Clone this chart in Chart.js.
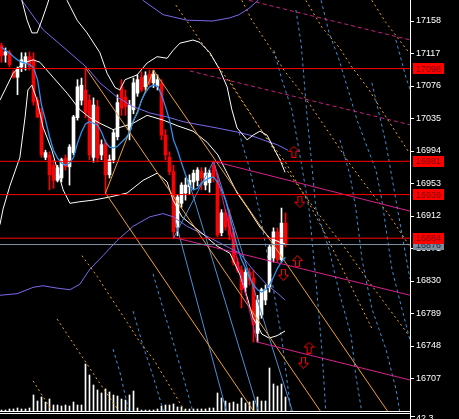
<!DOCTYPE html>
<html><head><meta charset="utf-8">
<script src="https://cdn.jsdelivr.net/npm/chart.js@4.4.1/dist/chart.umd.min.js"></script>
<style>html,body{margin:0;padding:0;background:#000;overflow:hidden}</style>
</head><body>
<canvas id="c" width="459" height="419" style="display:block;width:459px;height:419px"></canvas>
<script>
// ---------------- DATA ----------------
const opens  = [17127,17115,17118,17094,17087,17100,17105,17113,17109,17058,17043,16986,16989,16976,16957,16960,16985,16974,16992,17036,17058,17071,17058,16986,17050,16989,17004,16964,16983,17012,17075,17062,17021,17046,17067,17087,17075,17091,17080,17076,17079,17014,16986,16968,16898,16928,16941,16949,16955,16957,16968,16951,16954,16976,16957,16891,16916,16913,16892,16854,16844,16822,16841,16834,16764,16787,16806,16822,16859,16892,16857,16903];
const highs  = [17130,17124,17121,17096,17100,17118,17118,17119,17118,17062,17048,16995,16993,16983,16976,16985,16989,17002,17039,17084,17086,17099,17065,17061,17058,17008,17008,16989,17021,17065,17084,17071,17058,17086,17090,17094,17094,17096,17096,17090,17084,17021,16993,16976,16939,16954,16960,16964,16970,16973,16973,16973,16970,16981,16964,16920,16920,16920,16897,16859,16849,16846,16846,16844,16812,16821,16825,16875,16897,16897,16922,16916];
const lows   = [17106,17106,17100,17086,17065,17094,17096,17096,17052,17036,16986,16983,16945,16947,16955,16955,16970,16951,16989,17033,17052,17036,16983,16980,16980,16983,16941,16960,16979,17008,17039,17039,17008,17041,17063,17069,17071,17077,17074,17071,17008,16983,16964,16884,16887,16923,16932,16939,16945,16950,16945,16945,16942,16955,16886,16887,16894,16882,16850,16841,16796,16816,16825,16753,16753,16783,16800,16816,16854,16854,16854,16873];
const closes = [17114,17119,17103,17087,17098,17109,17113,17100,17056,17037,16989,16992,16964,16957,16973,16983,16974,16999,17037,17075,17077,17042,16989,17052,16985,17002,16964,16983,17017,17055,17048,17050,17052,17080,17084,17071,17089,17080,17091,17084,17014,16989,16968,16892,16936,16951,16951,16957,16966,16970,16960,16966,16966,16960,16888,16916,16898,16888,16853,16844,16819,16841,16831,16775,16806,16819,16819,16873,16892,16857,16903,16876];
const volumes = [25,25,50,50,75,50,50,75,400,250,350,225,300,150,150,125,150,125,225,150,150,1175,900,650,525,450,550,475,400,375,300,275,400,500,75,25,25,25,25,50,125,150,150,175,100,100,50,50,50,50,50,50,75,75,450,325,250,200,225,175,325,200,225,250,350,250,250,1075,675,625,675,350];
const fastMA = [17125,17121,17118,17113,17109,17106,17105,17103,17099,17084,17052,17033,17012,16995,16985,16979,16976,16979,16986,17004,17018,17028,17031,17029,17027,17018,17005,16999,16998,17000,17005,17010,17017,17033,17042,17058,17068,17075,17077,17076,17065,17050,17033,17008,16995,16979,16964,16951,16945,16947,16954,16957,16960,16961,16955,16945,16932,16913,16892,16872,16857,16846,16834,16825,16819,16816,16819,16825,16835,16846,16854,16860];

const priceTicks = [16707,16748,16789,16830,16871,16912,16953,16994,17035,17076,17117,17158];
const redLevels = [17098,16981,16939,16884];
const bidLevel = 16876;
const subWindowLabel = '42.3';

// band lines: [bar index, price]
const upperBand = [[4.1,17201],[5.1,17184],[6.4,17159],[7.6,17143],[8.9,17143],[10.1,17159],[11.4,17178],[12.6,17197],[15.1,17197],[16.4,17184],[18.9,17159],[21.4,17143],[24.6,17118],[26.4,17092],[28.4,17074],[29.6,17071],[30.9,17084],[33.9,17090],[36.4,17105],[38.9,17113],[41.4,17111],[42.9,17121],[44.6,17130],[47.9,17134],[49.6,17131],[52.1,17118],[54.6,17096],[56.4,17075],[57.6,17046],[58.9,17023],[61.4,17008],[62.9,17014],[64.6,17019],[66.4,17014],[67.9,16999],[69.6,16983],[70.9,16967]];
const middleBand = [[-0.4,17058],[2.9,17092],[5.4,17105],[7.9,17109],[9.6,17106],[12.9,17087],[16.4,17067],[19.6,17046],[22.1,17036],[24.6,17029],[27.9,17021],[32.9,17029],[36.4,17039],[40.4,17033],[43.9,17026],[47.9,17019],[51.4,17005],[54.1,16989],[56.4,16966],[58.9,16941],[61.4,16923],[64.6,16898],[67.1,16884],[69.6,16879],[70.9,16877]];
const lowerBand = [[-0.4,16901],[0.4,16921],[2.1,16950],[4.6,16986],[5.9,17037],[6.6,17071],[7.6,17077],[8.9,17058],[10.4,17024],[12.6,16995],[15.4,16945],[17.1,16928],[19.6,16930],[22.9,16932],[27.1,16936],[31.4,16941],[35.4,16957],[38.9,16966],[41.4,16955],[42.9,16932],[45.1,16911],[50.4,16889],[53.9,16874],[57.1,16865],[59.6,16838],[61.4,16810],[62.9,16783],[63.9,16775],[65.1,16763],[66.9,16758],[68.9,16761],[70.9,16767]];
const upperEnvelope = [[34.6,17191],[35.4,17184],[40.4,17166],[46.4,17159],[52.9,17158],[57.1,17162],[59.4,17166],[61.9,17174],[64.1,17184],[65.9,17195]];
const middleEnvelope = [[4.6,17191],[5.1,17184],[10.4,17147],[16.4,17121],[21.4,17099],[24.6,17080],[28.9,17062],[32.9,17050],[37.1,17042],[41.4,17037],[45.4,17031],[49.6,17027],[53.9,17023],[58.9,17018],[62.1,17014],[65.4,17008],[68.9,17002],[71.6,16995]];
const lowerEnvelope = [[-0.4,16812],[3.9,16814],[7.9,16822],[10.4,16824],[13.9,16821],[17.1,16819],[19.6,16826],[22.1,16845],[25.4,16862],[28.9,16881],[32.9,16899],[37.1,16911],[40.4,16915],[42.9,16911],[46.4,16899],[49.6,16891],[54.6,16878],[59.6,16865],[62.9,16844],[66.4,16825],[68.9,16815],[70.9,16806]];

// trend lines: [bar index, price] end points
const orangeLines = [[[21,17099],[80.1,16663]],[[26,16941],[38,17096]],[[38,17096],[96.9,16663]],[[26,16941],[63.4,16663]]];
const blueLines = [[[43.4,16907],[56.4,16663]],[[47.1,16951],[64.4,16663]],[[53,16981],[72.9,16663]],[[43,16884],[53,16981]]];
const magentaLines = [[[53,16981],[102.2,16918]],[[43,16885],[102.2,16812]],[[63.9,16753],[102.2,16705]],[[53,16981],[63.9,16753]]];
const magentaDashed = [[[61.9,17184],[102.2,17134]],[[47.1,17095],[102.2,17027]]];
const orangeDashed = [
  [[43.6,17178],[49.6,17134],[57.1,17080],[65.4,17017],[72.1,16964],[78.9,16917],[86.1,16870],[92.6,16824],[101.9,16761]],
  [[60.1,17184],[62.6,17159],[67.6,17121],[70.6,17096],[75.1,17067],[81.9,17017],[86.9,16979],[91.9,16945],[96.4,16917],[101.9,16875]],
  [[76.1,17184],[80.1,17150],[84.4,17125],[87.6,17100],[91.9,17071],[96.1,17037],[101.9,16992]],
  [[92.6,17184],[96.1,17156],[101.9,17118]],
  [[56.9,17084],[60.1,17058],[64.4,17024],[71.1,16979],[74.4,16949],[76.9,16928],[81.1,16888],[84.4,16854],[88.6,16811],[92.6,16770]],
  [[20.1,16862],[23.9,16836],[27.1,16811],[31.4,16778],[34.6,16753],[37.9,16732],[41.4,16703],[45.9,16665]],
  [[13.9,16782],[18.9,16744],[23.9,16706],[29.6,16664]],
  [[7.9,16704],[12.9,16664]]
];
const blueDashed = [
  [[37.9,16839],[40.4,16795],[42.9,16753],[45.4,16710],[47.9,16664]],
  [[32.9,16792],[35.4,16748],[37.9,16710],[40.6,16664]],
  [[27.9,16744],[29.6,16715],[31.9,16664]],
  [[59.4,17017],[61.9,16974],[64.4,16920],[67.6,16831],[70.1,16756],[72.4,16664]],
  [[68.1,17121],[70.1,17084],[72.6,17046],[75.1,16974],[76.9,16920],[78.6,16831],[80.1,16743],[81.1,16664]],
  [[73.6,17172],[74.9,17130],[75.6,17087],[76.4,17037],[77.4,16986],[78.6,16921],[81.9,16870],[84.4,16816],[87.4,16761],[88.6,16710],[90.1,16664]],
  [[79.9,17184],[81.9,17143],[84.4,17109],[86.9,17067],[88.9,17033],[91.4,16999],[93.6,16970],[95.1,16932],[97.6,16845],[100.1,16795],[102.1,16756]],
  [[84.6,17008],[87.1,16964],[88.6,16921],[90.1,16858],[92.6,16795],[96.1,16744],[98.6,16694],[99.6,16664]],
  [[92.6,17080],[96.1,17004],[98.6,16932],[102.1,16833]],
  [[98.6,17134],[101.1,17087],[102.6,17065]]
];
const upArrows = [[73.1,16993],[74.0,16855],[76.9,16746]];
const downArrows = [[74.6,16930],[70.5,16838],[75.5,16727]];

// ---------------- BUILD ----------------
const X_MIN = -0.375, X_MAX = 102.125;
const idx = closes.map((_, i) => i);
const candleColors = idx.map(i => closes[i] >= opens[i] ? '#ffffff' : '#ff0000');

function arrowCanvas(up) {
  const c = document.createElement('canvas');
  c.width = 11; c.height = 12;
  const g = c.getContext('2d');
  const pts = [[5.5,0.5],[10.5,5.5],[7.5,5.5],[7.5,11.5],[3.5,11.5],[3.5,5.5],[0.5,5.5]];
  g.strokeStyle = '#ff0000'; g.lineWidth = 1;
  g.beginPath();
  pts.forEach((p, k) => { const y = up ? p[1] : 12 - p[1]; k ? g.lineTo(p[0], y) : g.moveTo(p[0], y); });
  g.closePath(); g.stroke();
  return c;
}

const toXY = pts => pts.map(p => ({x: p[0], y: p[1]}));
function lineDS(pts, color, extra) {
  return Object.assign({type: 'line', data: toXY(pts), borderColor: color, backgroundColor: color,
    borderWidth: 1, pointRadius: 0, fill: false, tension: 0, order: 20, yAxisID: 'y', xAxisID: 'x'}, extra || {});
}

const datasets = [];
datasets.push({type: 'bar', data: idx.map(i => ({x: i, y: volumes[i]})), backgroundColor: '#ffffff',
  barThickness: 1, grouped: false, yAxisID: 'yv', xAxisID: 'x', order: 60});
blueDashed.forEach(l => datasets.push(lineDS(l, '#3f8fd6', {borderDash: [3, 3], order: 55})));
orangeDashed.forEach(l => datasets.push(lineDS(l, '#eea51e', {borderDash: [2, 3], order: 55})));
datasets.push({type: 'bar', data: idx.map(i => ({x: i, y: [lows[i], highs[i]]})), backgroundColor: candleColors,
  barThickness: 1, grouped: false, yAxisID: 'y', xAxisID: 'x', order: 50});
datasets.push({type: 'bar', data: idx.map(i => ({x: i, y: [opens[i], closes[i]]})), backgroundColor: candleColors,
  barThickness: 3, grouped: false, minBarLength: 1, yAxisID: 'y', xAxisID: 'x', order: 49});
[upperBand, middleBand, lowerBand].forEach(b => datasets.push(lineDS(b, '#ffffff', {order: 30})));
[upperEnvelope, middleEnvelope, lowerEnvelope].forEach(b => datasets.push(lineDS(b, '#7b68ee', {order: 31})));
orangeLines.forEach(l => datasets.push(lineDS(l, '#f0a030', {order: 28})));
blueLines.forEach(l => datasets.push(lineDS(l, '#4a8fd2', {order: 28})));
datasets.push(lineDS(idx.map(i => [i, fastMA[i]]), '#2e92f0', {borderWidth: 1.3, order: 25}));
magentaLines.forEach(l => datasets.push(lineDS(l, '#d8208c', {order: 22})));
magentaDashed.forEach(l => datasets.push(lineDS(l, '#c8207f', {borderDash: [4, 3], order: 22})));
datasets.push(lineDS([[X_MIN, bidLevel], [X_MAX, bidLevel]], '#8292a6', {order: 11}));
redLevels.forEach(v => datasets.push(lineDS([[X_MIN, v], [X_MAX, v]], '#ff0000', {order: 10})));
datasets.push(lineDS(upArrows, '#ff0000', {showLine: false, pointRadius: 6, pointStyle: arrowCanvas(true), order: 5}));
datasets.push(lineDS(downArrows, '#ff0000', {showLine: false, pointRadius: 6, pointStyle: arrowCanvas(false), order: 5}));

const FONT = '"Liberation Sans", Arial, sans-serif';

const bgPlugin = {id: 'bg', beforeDraw(chart) {
  const ctx = chart.ctx; ctx.save(); ctx.fillStyle = '#000'; ctx.fillRect(0, 0, chart.width, chart.height); ctx.restore();
}};

const overlayPlugin = {id: 'overlay', afterDraw(chart) {
  const ctx = chart.ctx, a = chart.chartArea, y = chart.scales.y;
  ctx.save();
  ctx.strokeStyle = '#ffffff'; ctx.lineWidth = 1;
  ctx.beginPath();
  ctx.moveTo(a.right + 0.5, 0); ctx.lineTo(a.right + 0.5, chart.height);
  ctx.moveTo(0, a.bottom + 0.5); ctx.lineTo(a.right + 1, a.bottom + 0.5);
  ctx.moveTo(0, a.bottom + 2.5); ctx.lineTo(a.right + 1, a.bottom + 2.5);
  ctx.moveTo(a.right, a.bottom + 5.5); ctx.lineTo(a.right + 5, a.bottom + 5.5);
  ctx.stroke();
  ctx.font = '9px ' + FONT; ctx.textBaseline = 'middle'; ctx.textAlign = 'left';
  ctx.fillStyle = '#ffffff';
  ctx.fillText(subWindowLabel, a.right + 6, a.bottom + 8);
  const tag = (v, bg, fg) => {
    const py = y.getPixelForValue(v);
    ctx.fillStyle = bg; ctx.fillRect(a.right + 3, Math.round(py - 5.5), 31, 11);
    ctx.fillStyle = fg; ctx.fillText(String(v), a.right + 6, py + 0.5);
  };
  tag(bidLevel, '#7d8a9c', '#1c2a44');
  redLevels.forEach(v => tag(v, '#ff0000', '#7a0000'));
  ctx.restore();
}};

new Chart(document.getElementById('c'), {
  type: 'bar',
  data: {datasets},
  options: {
    responsive: false, animation: false, devicePixelRatio: 1, events: [],
    layout: {autoPadding: false, padding: {top: 0, left: 0, right: 0, bottom: 8}},
    plugins: {legend: {display: false}, tooltip: {enabled: false}},
    scales: {
      x: {type: 'linear', min: X_MIN, max: X_MAX, display: false, offset: false, grid: {display: false}},
      y: {type: 'linear', position: 'right', min: 16666, max: 17184.5,
        afterBuildTicks: s => { s.ticks = priceTicks.map(v => ({value: v})); },
        afterFit: s => { s.width = 49; s.paddingTop = 0; s.paddingBottom = 0; },
        grid: {drawOnChartArea: false, drawTicks: true, tickLength: 4, color: '#ffffff'},
        border: {display: true, color: '#ffffff', width: 1},
        ticks: {color: '#ffffff', font: {family: FONT, size: 9}, padding: 2, autoSkip: false, callback: v => String(v)}
      },
      yv: {type: 'linear', display: false, min: 0, max: 10275}
    }
  },
  plugins: [bgPlugin, overlayPlugin]
});
</script>
</body></html>
